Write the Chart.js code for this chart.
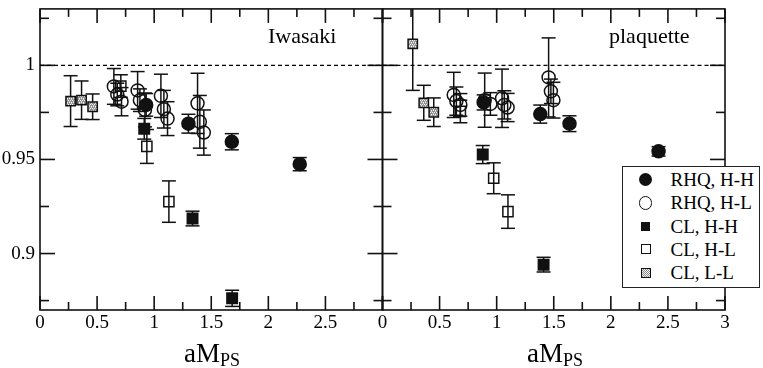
<!DOCTYPE html>
<html><head><meta charset="utf-8">
<script src="https://cdn.jsdelivr.net/npm/chart.js@4.4.1/dist/chart.umd.min.js"></script>
<style>
html,body{margin:0;padding:0;background:#fff;}
#wrap{position:relative;width:763px;height:368px;overflow:hidden;font-family:"Liberation Serif","Times New Roman",serif;color:#000;}
#c{position:absolute;left:0;top:0;}
.panel{position:absolute;font-size:22px;line-height:22px;white-space:nowrap;}
.xt{position:absolute;top:340px;font-size:27px;line-height:27px;white-space:nowrap;transform:translateX(-50%);}
.xt sub{font-size:18px;vertical-align:baseline;position:relative;top:3.5px;}
#legend{position:absolute;left:622px;top:166px;width:136px;height:120px;border:1.5px solid #222;background:#fff;}
.lrow{position:absolute;left:0;width:136px;height:19px;}
.lmk{position:absolute;box-sizing:border-box;}
.ltx{position:absolute;left:47.5px;top:0;font-size:19px;line-height:19px;white-space:nowrap;}
</style></head>
<body><div id="wrap"><canvas id="c" width="763" height="368"></canvas></div>
<script>
// ---------- data ----------
const panelNames = ['Iwasaki', 'plaquette'];
const seriesNames = ['RHQ, H-H', 'RHQ, H-L', 'CL, H-H', 'CL, H-L', 'CL, L-L'];
const xMajorTicks = [0, 0.5, 1, 1.5, 2, 2.5, 3];
const yMajorTicks = [0.9, 0.95, 1];
const refLineX = [0, 3];
const refLineY = [1, 1];

// Iwasaki
const iwaRhqHH_x = [0.93, 1.30, 1.68, 2.275];
const iwaRhqHH_y = [0.979, 0.969, 0.9594, 0.9475];
const iwaRhqHH_err = [0.006, 0.005, 0.0043, 0.0035];

const iwaRhqHL_x = [0.647, 0.677, 0.714, 0.855, 0.875, 0.919, 1.059, 1.085, 1.117, 1.38, 1.40, 1.435];
const iwaRhqHL_y = [0.9888, 0.9845, 0.9807, 0.9867, 0.9815, 0.9763, 0.9838, 0.9767, 0.9717, 0.9798, 0.9700, 0.9643];
const iwaRhqHL_err = [0.0095, 0.006, 0.0075, 0.010, 0.006, 0.009, 0.0115, 0.010, 0.009, 0.016, 0.014, 0.012];

const iwaClHH_x = [0.913, 1.336, 1.683];
const iwaClHH_y = [0.9663, 0.9186, 0.8762];
const iwaClHH_err = [0.0055, 0.0039, 0.0043];

const iwaClHL_x = [0.708, 0.936, 1.129];
const iwaClHL_y = [0.989, 0.9569, 0.9276];
const iwaClHL_err = [0.006, 0.009, 0.011];

const iwaClLL_x = [0.268, 0.364, 0.461];
const iwaClLL_y = [0.981, 0.9815, 0.978];
const iwaClLL_err = [0.0135, 0.0102, 0.0068];

// plaquette
const plqRhqHH_x = [0.886, 1.382, 1.638, 2.418];
const plqRhqHH_y = [0.9803, 0.9741, 0.969, 0.9543];
const plqRhqHH_err = [0.004, 0.0048, 0.0042, 0.0025];

const plqRhqHL_x = [0.624, 0.647, 0.682, 0.895, 0.945, 1.047, 1.067, 1.096, 1.455, 1.475, 1.497];
const plqRhqHL_y = [0.9843, 0.981, 0.979, 0.9815, 0.9795, 0.9825, 0.979, 0.9776, 0.9936, 0.9862, 0.9815];
const plqRhqHL_err = [0.012, 0.0075, 0.006, 0.0144, 0.006, 0.0155, 0.0075, 0.0075, 0.021, 0.0065, 0.0095];

const plqClHH_x = [0.878, 1.411];
const plqClHH_y = [0.9526, 0.8941];
const plqClHH_err = [0.0048, 0.0039];

const plqClHL_x = [0.682, 0.974, 1.099];
const plqClHL_y = [0.9755, 0.940, 0.9223];
const plqClHL_err = [0.006, 0.0082, 0.0089];

const plqClLL_x = [0.265, 0.3615, 0.449];
const plqClLL_y = [1.0114, 0.9801, 0.9751];
const plqClLL_err = [0.0247, 0.0093, 0.0076];

// ---------- styles ----------
const SERIF = "'Liberation Serif', 'Times New Roman', serif";
const INK = '#111';
function makePattern() {
  const c = document.createElement('canvas');
  c.width = 4; c.height = 4;
  const g = c.getContext('2d');
  g.fillStyle = '#909090'; g.fillRect(0, 0, 4, 4);
  g.fillStyle = '#f6f6f6';
  g.fillRect(0, 0, 1, 1); g.fillRect(2, 0, 1, 1);
  g.fillRect(1, 2, 1, 1); g.fillRect(3, 2, 1, 1);
  g.fillStyle = '#cfcfcf';
  g.fillRect(1, 1, 1, 1); g.fillRect(3, 3, 1, 1);
  return g.createPattern(c, 'repeat');
}
const hatch = makePattern();

const styles = [
  {pointStyle: 'circle', radius: 6.5, bg: INK},
  {pointStyle: 'circle', radius: 6.5, bg: 'rgba(0,0,0,0)'},
  {pointStyle: 'rect', radius: 7.4, bg: INK},
  {pointStyle: 'rect', radius: 7.2, bg: 'rgba(0,0,0,0)'},
  {pointStyle: 'rect', radius: 6.6, bg: hatch}
];

function pts(xs, ys) { return xs.map((x, i) => ({x: x, y: ys[i]})); }
function series(name, si, axis, xs, ys, errs) {
  const s = styles[si];
  return {
    type: 'scatter', label: name, xAxisID: axis, yAxisID: 'y',
    data: pts(xs, ys), errors: errs,
    pointStyle: s.pointStyle, pointRadius: s.radius, pointHoverRadius: s.radius,
    backgroundColor: s.bg, borderColor: INK, borderWidth: 1.5, showLine: false
  };
}
function refLine(axis) {
  return {type: 'line', label: 'ref', xAxisID: axis, yAxisID: 'y', data: pts(refLineX, refLineY),
    borderColor: '#000', borderWidth: 1.3, borderDash: [4, 3], pointRadius: 0, fill: false};
}

const datasets = [
  series(seriesNames[0], 0, 'x1', iwaRhqHH_x, iwaRhqHH_y, iwaRhqHH_err),
  series(seriesNames[0], 0, 'x2', plqRhqHH_x, plqRhqHH_y, plqRhqHH_err),
  series(seriesNames[2], 2, 'x1', iwaClHH_x, iwaClHH_y, iwaClHH_err),
  series(seriesNames[2], 2, 'x2', plqClHH_x, plqClHH_y, plqClHH_err),
  series(seriesNames[1], 1, 'x1', iwaRhqHL_x, iwaRhqHL_y, iwaRhqHL_err),
  series(seriesNames[1], 1, 'x2', plqRhqHL_x, plqRhqHL_y, plqRhqHL_err),
  series(seriesNames[3], 3, 'x1', iwaClHL_x, iwaClHL_y, iwaClHL_err),
  series(seriesNames[3], 3, 'x2', plqClHL_x, plqClHL_y, plqClHL_err),
  series(seriesNames[4], 4, 'x1', iwaClLL_x, iwaClLL_y, iwaClLL_err),
  series(seriesNames[4], 4, 'x2', plqClLL_x, plqClLL_y, plqClLL_err),
  refLine('x1'),
  refLine('x2')
];

const isMajor = (v, list) => list.some(m => Math.abs(m - v) < 1e-6);
const fmt = v => String(Math.round(v * 1000) / 1000);

function line(ctx, x0, y0, x1, y1) { ctx.beginPath(); ctx.moveTo(x0, y0); ctx.lineTo(x1, y1); ctx.stroke(); }

const framePlugin = {
  id: 'frameTicks',
  beforeDatasetsDraw(chart) {
    const {ctx, chartArea: a, scales} = chart;
    const y = scales.y, panels = [scales.x1, scales.x2];
    ctx.save();
    ctx.strokeStyle = '#111';
    ctx.lineWidth = 1.6;
    ctx.lineCap = 'butt';
    panels.forEach(s => ctx.strokeRect(s.left, a.top, s.right - s.left, a.bottom - a.top));
    y.ticks.forEach(t => {
      const py = y.getPixelForValue(t.value);
      const len = isMajor(t.value, yMajorTicks) ? 15 : 9;
      panels.forEach(s => {
        line(ctx, s.left, py, s.left + len, py);
        line(ctx, s.right, py, s.right - len, py);
      });
    });
    panels.forEach(s => s.ticks.forEach(t => {
      const px = s.getPixelForValue(t.value);
      const len = isMajor(t.value, xMajorTicks) ? 14 : 8;
      line(ctx, px, a.bottom, px, a.bottom - len);
      line(ctx, px, a.top, px, a.top + len);
    }));
    ctx.restore();
  },
  beforeDatasetDraw(chart, args) {
    const ds = chart.data.datasets[args.index];
    if (!ds.errors) return;
    const {ctx, chartArea: a} = chart;
    const y = chart.scales.y;
    ctx.save();
    ctx.beginPath(); ctx.rect(a.left, a.top, a.right - a.left, a.bottom - a.top); ctx.clip();
    ctx.strokeStyle = INK; ctx.lineWidth = 1.5;
    args.meta.data.forEach((el, i) => {
      const v = ds.data[i].y, e = ds.errors[i];
      const top = y.getPixelForValue(v + e), bot = y.getPixelForValue(v - e);
      line(ctx, el.x, top, el.x, bot);
      line(ctx, el.x - 7, top, el.x + 7, top);
      line(ctx, el.x - 7, bot, el.x + 7, bot);
    });
    ctx.restore();
  }
};

const tickFont = {family: SERIF, size: 19};
function xScale(hideLast) {
  return {
    type: 'linear', position: 'bottom', stack: 'panels', stackWeight: 1,
    min: 0, max: 3,
    grid: {display: false, drawTicks: false}, border: {display: false},
    ticks: {
      stepSize: 0.25, autoSkip: false, maxRotation: 0, padding: 2, color: '#000', font: tickFont,
      callback: v => (isMajor(v, xMajorTicks) && !(hideLast && Math.abs(v - 3) < 1e-6)) ? fmt(v) : ''
    },
    afterFit: s => { s.height = 58; s.paddingLeft = 0; s.paddingRight = 0; }
  };
}

const chart = new Chart(document.getElementById('c'), {
  type: 'scatter',
  data: {datasets: datasets},
  options: {
    responsive: false, animation: false, devicePixelRatio: 1, events: [],
    layout: {padding: {left: 0, right: 38, top: 1.5, bottom: 0}},
    plugins: {legend: {display: false}, tooltip: {enabled: false}},
    scales: {
      x1: xScale(true),
      x2: xScale(false),
      y: {
        type: 'linear', position: 'left', min: 0.87, max: 1.03,
        grid: {display: false, drawTicks: false}, border: {display: false},
        ticks: {stepSize: 0.025, includeBounds: false, padding: 5, color: '#000', font: tickFont,
          callback: v => isMajor(v, yMajorTicks) ? fmt(v) : ''},
        afterFit: s => { s.width = 40; s.paddingTop = 0; s.paddingBottom = 0; }
      }
    }
  },
  plugins: [framePlugin]
});

// ---------- HTML text: panel names, axis titles, legend ----------
const wrap = document.getElementById('wrap');
const panelPos = [268, 609];
panelNames.forEach((n, i) => {
  const d = document.createElement('div');
  d.className = 'panel'; d.textContent = n;
  d.style.left = panelPos[i] + 'px'; d.style.top = '24.6px';
  wrap.appendChild(d);
});
[212, 555].forEach(cx => {
  const d = document.createElement('div');
  d.className = 'xt'; d.style.left = cx + 'px';
  d.innerHTML = 'aM<sub>PS</sub>';
  wrap.appendChild(d);
});
const leg = document.createElement('div');
leg.id = 'legend';
const markerCss = [
  'width:13px;height:13px;border-radius:50%;background:#111;',
  'width:13.5px;height:13.5px;border-radius:50%;border:1.5px solid #111;background:#fff;',
  'width:9px;height:9px;background:#111;',
  'width:10px;height:10px;border:1.5px solid #111;background:#fff;',
  'width:10px;height:10px;border:1.5px solid #111;background:repeating-conic-gradient(#8c8c8c 0% 25%, #f0f0f0 0% 50%) 0 0/2px 2px;'
];
const markerSize = [13, 13.5, 9, 10, 10];
seriesNames.forEach((n, i) => {
  const row = document.createElement('div');
  row.className = 'lrow';
  row.style.top = (3 + 23.3 * i) + 'px';
  const m = document.createElement('div');
  m.className = 'lmk';
  m.style.cssText = markerCss[i];
  m.style.left = (22.5 - markerSize[i] / 2) + 'px';
  m.style.top = (9.5 - markerSize[i] / 2) + 'px';
  const t = document.createElement('div');
  t.className = 'ltx'; t.textContent = n;
  row.appendChild(m); row.appendChild(t);
  leg.appendChild(row);
});
wrap.appendChild(leg);
</script>
</body></html>
